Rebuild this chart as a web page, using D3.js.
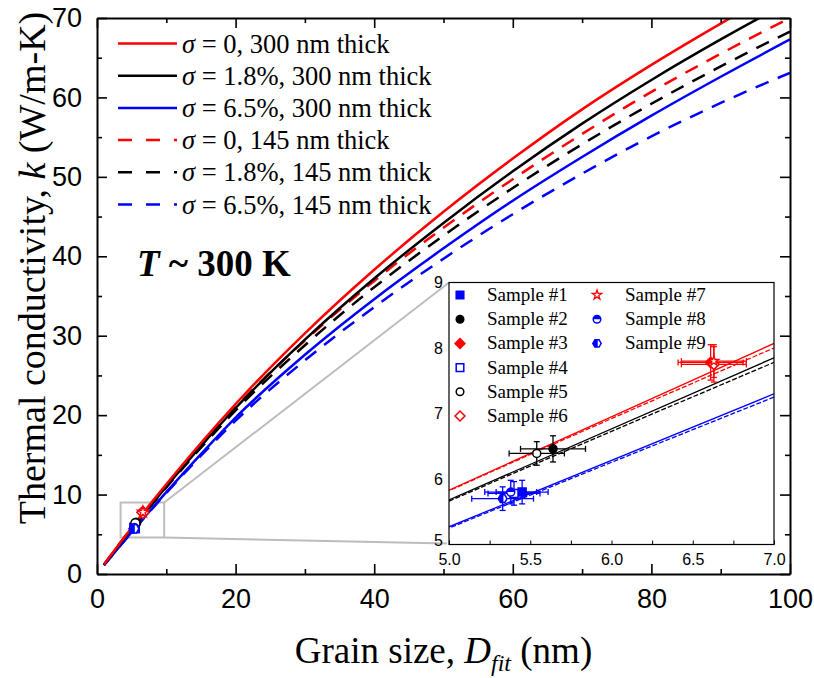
<!DOCTYPE html>
<html lang="en">
<head>
<meta charset="UTF-8">
<title>Thermal conductivity vs grain size</title>
<script src="https://d3js.org/d3.v7.min.js"></script>
<style>
  body { margin: 0; background: #fff; }
  svg { display: block; }
  .serif { font-family: "Liberation Serif", "Times New Roman", serif; }
  .sans { font-family: "Liberation Sans", Arial, sans-serif; }
</style>
</head>
<body>
<svg width="814" height="678"></svg>
<script>
// ---- data ----
// grain size grid, nm
const grain = [1, 5, 7, 10, 15, 20, 30, 40, 50, 60, 70, 80, 90, 100];
// thermal conductivity, W/m-K
const kSig0_300   = [1.2, 5.83, 8.07, 11.3, 16.5, 21.4, 30.3, 38.3, 45.6, 52.3, 58.5, 64.1, 69.3, 74.2];
const kSig18_300  = [1.15, 5.68, 7.85, 11.0, 16.1, 20.9, 29.5, 37.2, 44.2, 50.7, 56.7, 62.2, 67.3, 72.1];
const kSig65_300  = [1.1, 5.27, 7.30, 10.3, 15.1, 19.7, 27.6, 34.6, 41.0, 47.0, 52.5, 57.7, 62.6, 67.3];
const kSig0_145   = [1.15, 5.82, 8.00, 11.1, 16.2, 21.0, 29.4, 36.9, 43.6, 49.7, 55.4, 60.7, 65.5, 70.0];
const kSig18_145  = [1.15, 5.66, 7.78, 10.9, 15.9, 20.6, 28.8, 36.1, 42.6, 48.6, 54.1, 59.2, 63.9, 68.3];
const kSig65_145  = [1.1, 5.25, 7.25, 10.2, 14.9, 19.3, 26.9, 33.6, 39.7, 45.3, 50.4, 55.1, 59.3, 63.1];
const sigmaLabels = ["0", "1.8%", "6.5%", "0", "1.8%", "6.5%"];
const thickLabels = ["300 nm thick", "300 nm thick", "300 nm thick", "145 nm thick", "145 nm thick", "145 nm thick"];

const sampleNames = ["Sample #1", "Sample #2", "Sample #3", "Sample #4", "Sample #5",
                     "Sample #6", "Sample #7", "Sample #8", "Sample #9"];
const sampleD    = [5.45, 5.64, 6.61, 5.40, 5.54, 6.63, 6.63, 5.38, 5.33];
const sampleK    = [5.80, 6.46, 7.78, 5.78, 6.39, 7.75, 7.80, 5.80, 5.70];
const sampleDErr = [0.16, 0.20, 0.20, 0.16, 0.17, 0.20, 0.20, 0.16, 0.19];
const sampleKErr = [0.18, 0.20, 0.27, 0.18, 0.18, 0.27, 0.25, 0.18, 0.18];

const xTicks = [0, 20, 40, 60, 80, 100];
const yTicks = [0, 10, 20, 30, 40, 50, 60, 70];
const insetXTicks = [5.0, 5.5, 6.0, 6.5, 7.0];
const insetYTicks = [5, 6, 7, 8, 9];

// ---- styles ----
const curveStyle = [
  {color: "#ff0000", dash: null}, {color: "#000000", dash: null}, {color: "#0000ff", dash: null},
  {color: "#ff0000", dash: "14,10"}, {color: "#000000", dash: "14,10"}, {color: "#0000ff", dash: "14,10"}
];
const markerStyle = [
  {shape: "square", color: "#0000ff", fill: "full"},
  {shape: "circle", color: "#000000", fill: "full"},
  {shape: "diamond", color: "#ff0000", fill: "full"},
  {shape: "square", color: "#0000ff", fill: "none"},
  {shape: "circle", color: "#000000", fill: "none"},
  {shape: "diamond", color: "#ff0000", fill: "none"},
  {shape: "star", color: "#ff0000", fill: "none"},
  {shape: "circle", color: "#0000ff", fill: "top"},
  {shape: "hexagon", color: "#0000ff", fill: "left"}
];

const series = [kSig0_300, kSig18_300, kSig65_300, kSig0_145, kSig18_145, kSig65_145]
  .map((ks, i) => ({style: curveStyle[i], pts: grain.map((d, j) => [d, ks[j]])}));

const svg = d3.select("svg");
const M = {left: 97, right: 790, top: 18, bottom: 574};

const x = d3.scaleLinear().domain([0, 100]).range([M.left, M.right]);
const y = d3.scaleLinear().domain([0, 70]).range([M.bottom, M.top]);

const defs = svg.append("defs");
defs.append("clipPath").attr("id", "mainClip")
  .append("rect").attr("x", M.left).attr("y", M.top)
  .attr("width", M.right - M.left).attr("height", M.bottom - M.top);

// zoom box + connecting lines
const box = {x0: 3.4, x1: 9.7, y0: 4.6, y1: 9.0};
const I = {left: 449, right: 774, top: 282.5, bottom: 544.5};
const gray = svg.append("g").attr("stroke", "#bdbdbd").attr("stroke-width", 2).attr("fill", "none");
gray.append("rect").attr("x", x(box.x0)).attr("y", y(box.y1))
  .attr("width", x(box.x1) - x(box.x0)).attr("height", y(box.y0) - y(box.y1));
gray.append("line").attr("x1", x(box.x1)).attr("y1", y(box.y1)).attr("x2", I.left).attr("y2", I.top);
gray.append("line").attr("x1", x(box.x1)).attr("y1", y(box.y0)).attr("x2", I.left - 2).attr("y2", I.bottom - 1);

// main curves
const line = d3.line().x(d => x(d[0])).y(d => y(d[1])).curve(d3.curveMonotoneX);
const curves = svg.append("g").attr("clip-path", "url(#mainClip)");
series.slice().reverse().forEach(s => {
  curves.append("path").attr("d", line(s.pts)).attr("fill", "none")
    .attr("stroke", s.style.color).attr("stroke-width", 2.5)
    .attr("stroke-dasharray", s.style.dash);
});

// marker helper
function drawMarker(g, st, cx, cy, r) {
  const c = st.color;
  const base = g.append("g");
  if (st.shape === "circle") {
    if (st.fill === "top") {
      base.append("circle").attr("cx", cx).attr("cy", cy).attr("r", r)
        .attr("fill", "#fff").attr("stroke", c).attr("stroke-width", 1.5);
      base.append("path").attr("d", `M${cx - r},${cy}A${r},${r} 0 0 1 ${cx + r},${cy}Z`).attr("fill", c);
    } else {
      base.append("circle").attr("cx", cx).attr("cy", cy).attr("r", r)
        .attr("fill", st.fill === "full" ? c : "#fff").attr("stroke", c).attr("stroke-width", 1.5);
    }
  } else if (st.shape === "star") {
    base.append("path").attr("d", d3.symbol(d3.symbolStar, r * r * 1.9)())
      .attr("transform", `translate(${cx},${cy})`)
      .attr("fill", "#fff").attr("stroke", c).attr("stroke-width", 1.3);
  } else if (st.shape === "hexagon") {
    const p = d3.range(6).map(i => [cx + r * 1.1 * Math.cos(Math.PI / 3 * i), cy + r * 1.1 * Math.sin(Math.PI / 3 * i)]);
    base.append("path").attr("d", "M" + p.join("L") + "Z")
      .attr("fill", "#fff").attr("stroke", c).attr("stroke-width", 1.5);
    base.append("path").attr("d", `M${cx - r * 1.1},${cy}L${cx - r * 0.55},${cy - r * 0.95}L${cx + r * 0.2},${cy - r * 0.95}L${cx + r * 0.2},${cy + r * 0.95}L${cx - r * 0.55},${cy + r * 0.95}Z`)
      .attr("fill", c);
  } else {
    const shapePath = st.shape === "square"
      ? `M${cx - r},${cy - r}h${2 * r}v${2 * r}h${-2 * r}Z`
      : `M${cx},${cy - r * 1.3}L${cx + r * 1.3},${cy}L${cx},${cy + r * 1.3}L${cx - r * 1.3},${cy}Z`;
    base.append("path").attr("d", shapePath)
      .attr("fill", st.fill === "full" ? c : "#fff").attr("stroke", c).attr("stroke-width", 1.5);
  }
}

function drawSamples(g, sx, sy, r, cap) {
  sampleD.forEach((d, i) => {
    const st = markerStyle[i];
    const eb = g.append("g").attr("stroke", st.color).attr("stroke-width", 1.3);
    const px = sx(d), py = sy(sampleK[i]);
    const xl = sx(d - sampleDErr[i]), xr = sx(d + sampleDErr[i]);
    const yt = sy(sampleK[i] + sampleKErr[i]), yb = sy(sampleK[i] - sampleKErr[i]);
    eb.append("line").attr("x1", xl).attr("x2", xr).attr("y1", py).attr("y2", py);
    eb.append("line").attr("x1", px).attr("x2", px).attr("y1", yt).attr("y2", yb);
    if (cap) {
      eb.append("line").attr("x1", xl).attr("x2", xl).attr("y1", py - cap).attr("y2", py + cap);
      eb.append("line").attr("x1", xr).attr("x2", xr).attr("y1", py - cap).attr("y2", py + cap);
      eb.append("line").attr("x1", px - cap).attr("x2", px + cap).attr("y1", yt).attr("y2", yt);
      eb.append("line").attr("x1", px - cap).attr("x2", px + cap).attr("y1", yb).attr("y2", yb);
    }
  });
  sampleD.forEach((d, i) => drawMarker(g, markerStyle[i], sx(d), sy(sampleK[i]), r));
}
drawSamples(svg.append("g"), x, y, 4.5, 0);

// main axes, ticks inward
const axG = svg.append("g").attr("class", "sans");
const minorX = d3.range(10, 100, 20), minorY = d3.range(5, 70, 10);
[
  [d3.axisBottom(x), `translate(0,${M.bottom})`, true, minorX, xTicks],
  [d3.axisTop(x), `translate(0,${M.top})`, false, minorX, xTicks],
  [d3.axisLeft(y), `translate(${M.left},0)`, true, minorY, yTicks],
  [d3.axisRight(y), `translate(${M.right},0)`, false, minorY, yTicks]
].forEach(([ax, tr, labels, minor, major]) => {
  const g = axG.append("g").attr("transform", tr)
    .call(ax.tickValues(major).tickSizeInner(-10).tickSizeOuter(0).tickPadding(15)
      .tickFormat(labels ? d3.format("d") : ""));
  g.select(".domain").attr("stroke", "#000").attr("stroke-width", 2);
  g.selectAll(".tick line").attr("stroke", "#000").attr("stroke-width", 1.6);
  g.selectAll("text").attr("font-size", 27).attr("fill", "#000")
    .attr("font-family", "Liberation Sans, Arial, sans-serif");
  const gm = axG.append("g").attr("transform", tr)
    .call(ax.tickValues(minor).tickSizeInner(-5).tickSizeOuter(0).tickFormat(""));
  gm.select(".domain").remove();
  gm.selectAll(".tick line").attr("stroke", "#000").attr("stroke-width", 1.6);
});

// axis titles
svg.append("text").attr("class", "serif").attr("x", (M.left + M.right) / 2).attr("y", 663)
  .attr("text-anchor", "middle").attr("font-size", 37)
  .call(t => {
    t.append("tspan").text("Grain size, ");
    t.append("tspan").attr("font-style", "italic").text("D");
    t.append("tspan").attr("font-style", "italic").attr("font-size", 24).attr("dy", 8).text("fit");
    t.append("tspan").attr("dy", -8).text(" (nm)");
  });
svg.append("text").attr("class", "serif")
  .attr("transform", "translate(45,268) rotate(-90)")
  .attr("text-anchor", "middle").attr("font-size", 38)
  .call(t => {
    t.append("tspan").text("Thermal conductivity, ");
    t.append("tspan").attr("font-style", "italic").text("k");
    t.append("tspan").text(" (W/m-K)");
  });

// T ~ 300 K
svg.append("text").attr("class", "serif").attr("x", 137).attr("y", 276)
  .attr("font-size", 37).attr("font-weight", "bold")
  .call(t => {
    t.append("tspan").attr("font-style", "italic").text("T");
    t.append("tspan").text(" ~ 300 K");
  });

// main legend
const leg = svg.append("g");
series.forEach((s, i) => {
  const ly = 43.5 + i * 32.2;
  leg.append("line").attr("x1", 118).attr("x2", 177).attr("y1", ly).attr("y2", ly)
    .attr("stroke", s.style.color).attr("stroke-width", 2.5)
    .attr("stroke-dasharray", s.style.dash ? "14,14" : null);
  leg.append("text").attr("class", "serif").attr("x", 182).attr("y", ly + 9)
    .attr("font-size", 26.5)
    .call(t => {
      t.append("tspan").attr("font-style", "italic").text("\u03c3");
      t.append("tspan").text(" = " + sigmaLabels[i] + ", " + thickLabels[i]);
    });
});

// ---- inset ----
const ix = d3.scaleLinear().domain([5, 7]).range([I.left, I.right]);
const iy = d3.scaleLinear().domain([5, 9]).range([I.bottom, I.top]);
const inset = svg.append("g");
inset.append("rect").attr("x", I.left).attr("y", I.top)
  .attr("width", I.right - I.left).attr("height", I.bottom - I.top).attr("fill", "#fff");
defs.append("clipPath").attr("id", "insetClip")
  .append("rect").attr("x", I.left).attr("y", I.top)
  .attr("width", I.right - I.left).attr("height", I.bottom - I.top);
const iline = d3.line().x(d => ix(d[0])).y(d => iy(d[1])).curve(d3.curveMonotoneX);
const ic = inset.append("g").attr("clip-path", "url(#insetClip)");
series.slice().reverse().forEach(s => {
  ic.append("path").attr("d", iline(s.pts)).attr("fill", "none")
    .attr("stroke", s.style.color).attr("stroke-width", 1.3)
    .attr("stroke-dasharray", s.style.dash ? "5,2" : null);
});
drawSamples(inset.append("g"), ix, iy, 4, 3);

inset.append("rect").attr("x", I.left).attr("y", I.top)
  .attr("width", I.right - I.left).attr("height", I.bottom - I.top)
  .attr("fill", "none").attr("stroke", "#000").attr("stroke-width", 1.2);
const ixa = inset.append("g").attr("transform", `translate(0,${I.bottom})`)
  .call(d3.axisBottom(ix).tickValues(insetXTicks).tickSizeInner(-4).tickSizeOuter(0)
    .tickPadding(9).tickFormat(d3.format(".1f")));
const ixm = inset.append("g").attr("transform", `translate(0,${I.bottom})`)
  .call(d3.axisBottom(ix).tickValues([5.25, 5.75, 6.25, 6.75]).tickSizeInner(-4).tickSizeOuter(0).tickFormat(""));
ixm.select(".domain").remove();
const iya = inset.append("g").attr("transform", `translate(${I.left},0)`)
  .call(d3.axisLeft(iy).tickValues(insetYTicks).tickSizeInner(0).tickSizeOuter(0)
    .tickPadding(6).tickFormat(d3.format("d")));
[ixa, iya].forEach(g => {
  g.select(".domain").remove();
  g.selectAll("text").attr("font-size", 16).attr("font-family", "Liberation Sans, Arial, sans-serif");
});
// lift the bottom "5" a little so it clears the "5.0" below it
iya.selectAll(".tick").filter(d => d === 5).select("text").attr("dy", "0.05em");
inset.selectAll(".tick line").attr("stroke", "#000").attr("stroke-width", 1);

// inset legend
sampleNames.forEach((name, i) => {
  const col = i < 6 ? 0 : 1, row = i < 6 ? i : i - 6;
  const mx = col === 0 ? 460 : 597, tx = col === 0 ? 487 : 625;
  const my = 295 + row * 24.2;
  drawMarker(inset, markerStyle[i], mx, my, 3.8);
  inset.append("text").attr("class", "serif").attr("x", tx).attr("y", my + 6)
    .attr("font-size", 19).text(name);
});
</script>
</body>
</html>
